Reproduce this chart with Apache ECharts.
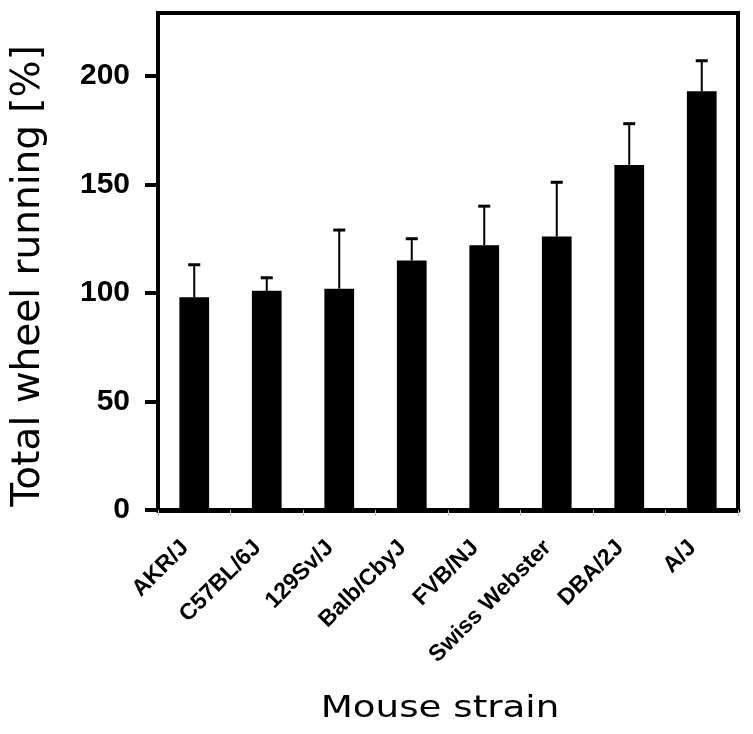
<!DOCTYPE html>
<html><head><meta charset="utf-8">
<script src="https://cdn.jsdelivr.net/npm/echarts@6/dist/echarts.min.js"></script>
<style>html,body{margin:0;padding:0;background:#fff}#c{width:753px;height:734px}</style>
</head><body><div id="c"></div>
<script>
var categories = ['AKR/J','C57BL/6J','129Sv/J','Balb/CbyJ','FVB/NJ','Swiss Webster','DBA/2J','A/J'];
var means = [98, 101, 102, 115, 122, 126, 159, 193];
var errorTops = [113, 107, 129, 125, 140, 151, 178, 207];
var yTicks = [0, 50, 100, 150, 200];

var chart = echarts.init(document.getElementById('c'));
var font = '"Liberation Sans", Arial, Helvetica, sans-serif';
var titleFont = '"DejaVu Sans", Verdana, sans-serif';
chart.setOption({
  animation: false,
  grid: {left: 158, right: 15, top: 13, bottom: 224, show: true, borderColor: '#000', borderWidth: 4, backgroundColor: 'transparent'},
  xAxis: {
    type: 'category', data: categories,
    axisLine: {lineStyle: {color: '#000', width: 5}},
    axisTick: {show: true, length: 6, lineStyle: {color: '#bbb', width: 1}},
    axisLabel: {rotate: 45, margin: 25, padding: [0, 13, 0, 0], fontFamily: font, fontWeight: 'bold', fontSize: 23, color: '#000'}
  },
  yAxis: {
    type: 'value', min: 0, max: 229, interval: 50,
    axisLine: {show: true, lineStyle: {color: '#000', width: 4}},
    axisTick: {show: true, length: 13, customValues: yTicks, lineStyle: {color: '#000', width: 4}},
    axisLabel: {margin: 28, fontFamily: font, fontWeight: 'bold', fontSize: 30, color: '#000',
      customValues: yTicks},
    splitLine: {show: false}
  },
  graphic: [
    {type: 'text', x: 440, y: 709, scaleX: 1.2, style: {text: 'Mouse strain', font: '31px ' + titleFont, fill: '#000', align: 'center', verticalAlign: 'middle'}},
    {type: 'text', x: 29, y: 276, rotation: Math.PI / 2,
      style: {text: 'Total wheel running [%]', font: '39px ' + titleFont, fill: '#000', align: 'center', verticalAlign: 'middle'}}
  ],
  series: [
    {type: 'bar', data: means, barWidth: '41%', itemStyle: {color: '#000'}, z: 2},
    {type: 'custom', z: 3,
      data: categories.map(function (c, i) { return [i, means[i], errorTops[i]]; }),
      renderItem: function (params, api) {
        var base = api.coord([api.value(0), api.value(1)]);
        var top = api.coord([api.value(0), api.value(2)]);
        return {type: 'group', children: [
          {type: 'line', shape: {x1: base[0], y1: base[1], x2: top[0], y2: top[1]}, style: {stroke: '#000', lineWidth: 2}},
          {type: 'line', shape: {x1: top[0] - 6, y1: top[1], x2: top[0] + 6, y2: top[1]}, style: {stroke: '#000', lineWidth: 3}}
        ]};
      }
    }
  ]
});
</script></body></html>
